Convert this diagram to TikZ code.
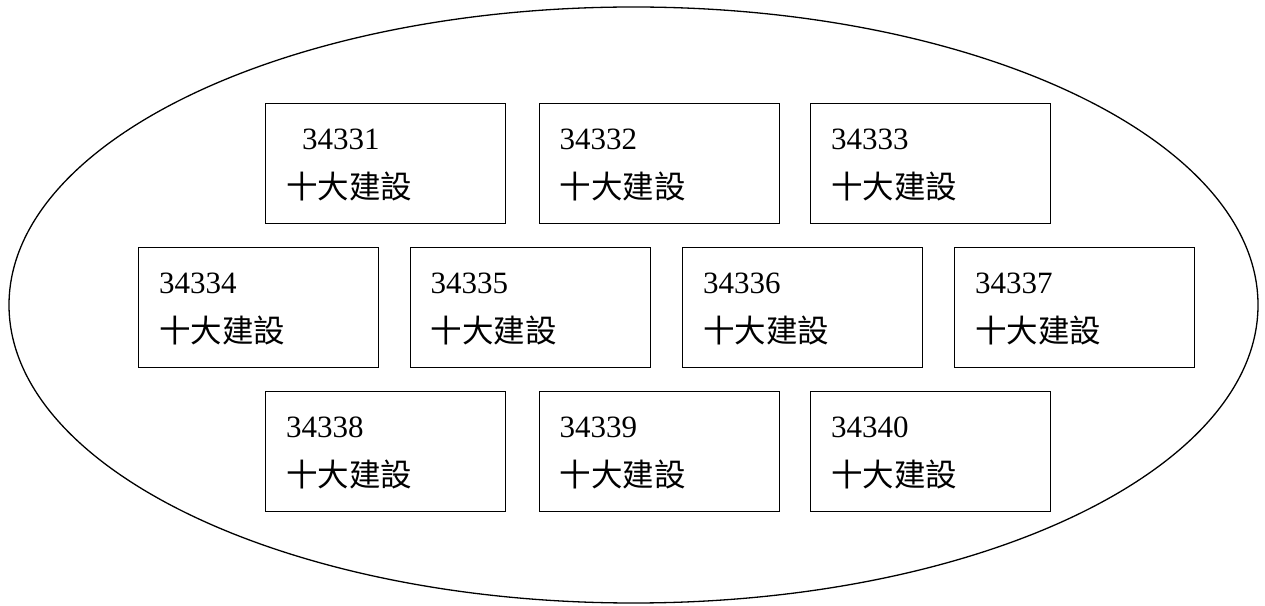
\documentclass[tikz,border=0pt]{standalone}
\usepackage{fontspec}
\setmainfont{Liberation Serif}
\newfontfamily\cjk{Noto Sans CJK TC}
\tikzset{
  x=1pt, y=1pt,
  cellbox/.style={draw, line width=1.2pt, rectangle, minimum width=240pt, minimum height=120pt, inner sep=0pt},
  numtxt/.style={inner sep=0pt, font=\fontsize{31}{31}\selectfont},
  cjktxt/.style={inner sep=0pt, font=\cjk\fontsize{31.5}{31.5}\selectfont},
  oval/.style={draw, line width=1.3pt}
}
\newcommand\cellbox[5]{%
  \node[cellbox, anchor=north west] (#1) at (#2,#3) {};
  \node[numtxt, anchor=base west] (#1n) at ([shift={(#5pt,-47pt)}]#1.north west) {#4};
  \node[cjktxt, anchor=base west] (#1c) at ([shift={(21pt,-96pt)}]#1.north west) {十大建設};
}
\begin{document}
\begin{tikzpicture}
\useasboundingbox (0,0) rectangle (1265,605);
\draw[oval] (633.5,300) ellipse [x radius=624.5, y radius=298];
% row 1 (top y px 103)
\cellbox{b1}{265}{502}{34331}{37}
\cellbox{b2}{538.5}{502}{34332}{21}
\cellbox{b3}{810}{502}{34333}{21}
% row 2 (top y px 247)
\cellbox{b4}{138}{358}{34334}{21}
\cellbox{b5}{409.5}{358}{34335}{21}
\cellbox{b6}{682}{358}{34336}{21}
\cellbox{b7}{954}{358}{34337}{21}
% row 3 (top y px 391)
\cellbox{b8}{265}{214}{34338}{21}
\cellbox{b9}{538.5}{214}{34339}{21}
\cellbox{b10}{810}{214}{34340}{21}
\end{tikzpicture}
\end{document}
